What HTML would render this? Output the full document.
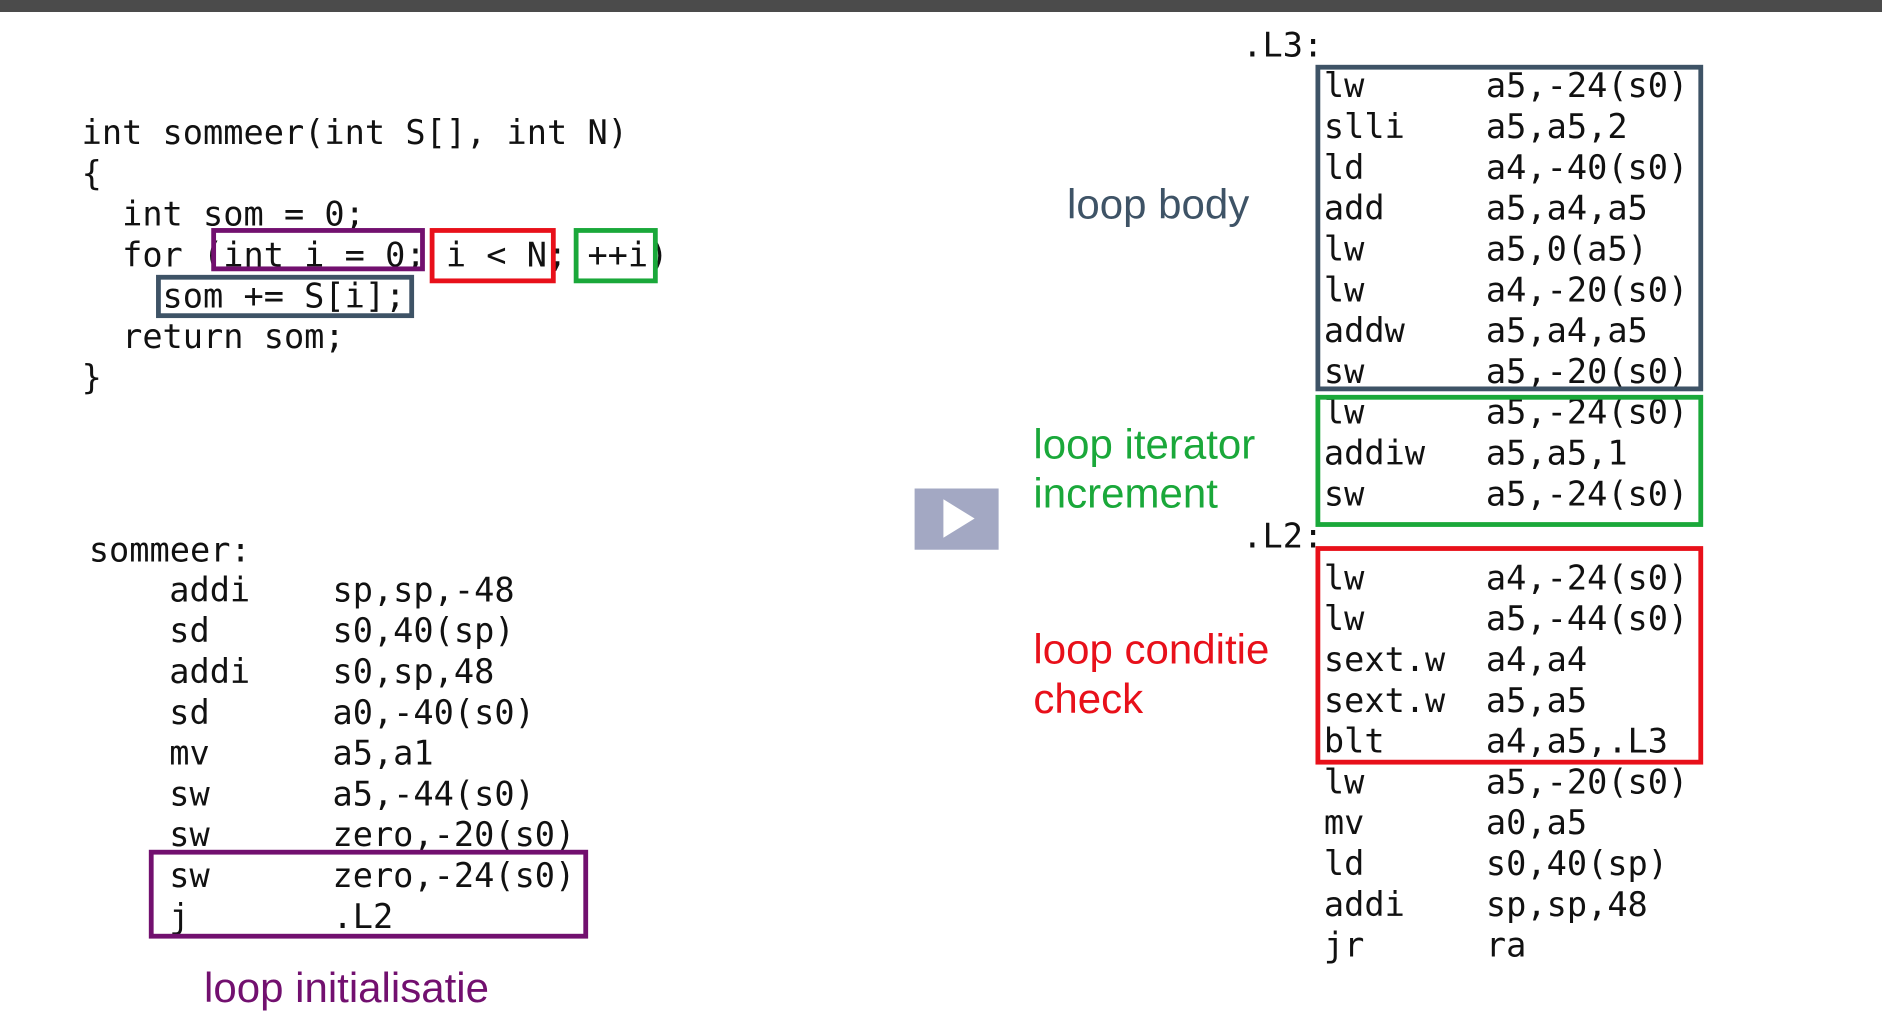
<!DOCTYPE html>
<html><head><meta charset="utf-8"><style>
html,body{margin:0;padding:0;background:#fff;width:1882px;height:1012px;overflow:hidden}
#s{position:absolute;left:0;top:0;width:1568px;height:843px;transform:scale(1.20026);transform-origin:0 0}
.m{position:absolute;font-family:"DejaVu Sans Mono","Liberation Mono",monospace;font-size:28px;line-height:34px;white-space:pre;color:#111}
.b{position:absolute;box-sizing:border-box;border:4px solid}
.l{position:absolute;font-family:"Liberation Sans",sans-serif;font-size:35px;line-height:41px;white-space:pre}
</style></head><body><div id="s">
<div style="position:absolute;left:0;top:0;width:1568px;height:10px;background:#4b4b4b"></div>

<div class="m" style="left:68px;top:94px">int sommeer(int S[], int N)
{
  int som = 0;
  for (int i = 0; i &lt; N; ++i)
    som += S[i];
  return som;
}</div>
<div class="b" style="left:176px;top:190px;width:178px;height:36px;border-color:#72106f"></div>
<div class="b" style="left:358px;top:190px;width:105px;height:46px;border-color:#e8101a"></div>
<div class="b" style="left:478px;top:190px;width:70px;height:46px;border-color:#1aa83a"></div>
<div class="b" style="left:130px;top:229px;width:215px;height:36px;border-color:#3e5366"></div>

<div class="m" style="left:74px;top:442px">sommeer:</div>
<div class="m" style="left:141px;top:475px">addi
sd
addi
sd
mv
sw
sw
sw
j</div>
<div class="m" style="left:277px;top:475px">sp,sp,-48
s0,40(sp)
s0,sp,48
a0,-40(s0)
a5,a1
a5,-44(s0)
zero,-20(s0)
zero,-24(s0)
.L2</div>
<div class="b" style="left:124px;top:708px;width:366px;height:74px;border-color:#72106f"></div>
<div class="l" style="left:170px;top:803px;color:#72106f">loop initialisatie</div>

<div style="position:absolute;left:762px;top:407px;width:70px;height:51px;background:#a3a8c3"></div>
<div style="position:absolute;left:786px;top:416px;width:0;height:0;border-top:16px solid transparent;border-bottom:16px solid transparent;border-left:26px solid #fff"></div>

<div class="m" style="left:1035px;top:21px">.L3:</div>
<div class="m" style="left:1035px;top:430px">.L2:</div>
<div class="m" style="left:1103px;top:55px">lw
slli
ld
add
lw
lw
addw
sw
lw
addiw
sw</div>
<div class="m" style="left:1238px;top:55px">a5,-24(s0)
a5,a5,2
a4,-40(s0)
a5,a4,a5
a5,0(a5)
a4,-20(s0)
a5,a4,a5
a5,-20(s0)
a5,-24(s0)
a5,a5,1
a5,-24(s0)</div>
<div class="m" style="left:1103px;top:465px">lw
lw
sext.w
sext.w
blt
lw
mv
ld
addi
jr</div>
<div class="m" style="left:1238px;top:465px">a4,-24(s0)
a5,-44(s0)
a4,a4
a5,a5
a4,a5,.L3
a5,-20(s0)
a0,a5
s0,40(sp)
sp,sp,48
ra</div>
<div class="b" style="left:1096px;top:54px;width:323px;height:272px;border-color:#3e5366"></div>
<div class="b" style="left:1096px;top:329px;width:323px;height:110px;border-color:#1aa83a"></div>
<div class="b" style="left:1096px;top:455px;width:323px;height:182px;border-color:#e8101a"></div>

<div class="l" style="left:889px;top:150px;color:#3e5366">loop body</div>
<div class="l" style="left:861px;top:350px;color:#1aa83a">loop iterator
increment</div>
<div class="l" style="left:861px;top:521px;color:#e8101a">loop conditie
check</div>
</div></body></html>
